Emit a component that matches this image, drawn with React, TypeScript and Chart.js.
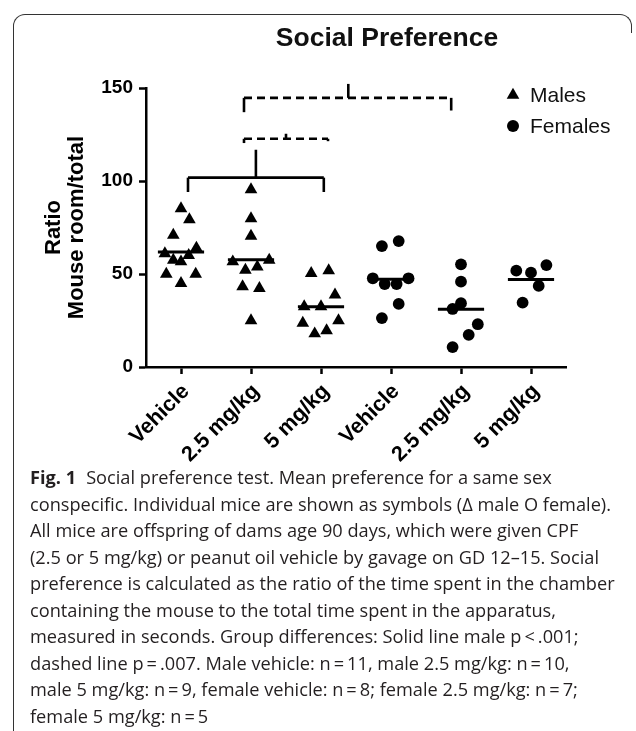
import React, { useEffect, useRef } from 'react';
import { Chart, registerables } from 'chart.js';

Chart.register(...registerables);

// ---------- data ----------
const categories = ['Vehicle', '2.5 mg/kg', '5 mg/kg', 'Vehicle', '2.5 mg/kg', '5 mg/kg'];
const yTickValues = [0, 50, 100, 150];
const chartTitle = 'Social Preference';
const yTitle = ['Ratio', 'Mouse room/total'];
const legendLabels = ['Males', 'Females'];

// values per group, and horizontal scatter offsets (in category units)
const maleVehicle = [85.2, 79.3, 70.9, 61, 64, 60, 57.5, 56.6, 50, 50, 45];
const maleVehicleJitter = [0, 0.12, -0.11, -0.23, 0.22, 0.11, -0.11, 0, -0.21, 0.21, 0];
const male25 = [95.4, 79.8, 70.4, 56.6, 57.5, 52.1, 53.9, 43.2, 42.3, 25];
const male25Jitter = [0, 0, 0, -0.26, 0.26, -0.08, 0.09, -0.12, 0.12, 0];
const male5 = [50.4, 51.8, 32.5, 32.5, 38.8, 25, 23.6, 17.9, 19.6];
const male5Jitter = [-0.14, 0.11, -0.24, 0, 0.2, 0.25, -0.26, -0.09, 0.08];
const femaleVehicle = [65, 67.7, 47.7, 44.6, 44.6, 47.7, 33.9, 26.3];
const femaleVehicleJitter = [-0.13, 0.11, -0.26, -0.09, 0.08, 0.25, 0.11, -0.13];
const female25 = [55.2, 45.9, 34.3, 31.2, 23, 17.3, 10.7];
const female25Jitter = [0, 0, 0, -0.12, 0.24, 0.11, -0.12];
const female5 = [51.8, 50.7, 54.8, 43.6, 34.6];
const female5Jitter = [-0.21, 0, 0.22, 0.11, -0.12];

// significance brackets (x in category units, y in ratio units)
const solidBracket = { from: 0.1, to: 2.04, peak: 1.07, bar: 101.8, legLeft: 94.1, legRight: 94.1, tickEnd: 116.8 };
const dashedBracketUpper = { from: 0.9, to: 3.86, peak: 2.39, bar: 144.7, legLeft: 137.0, legRight: 137.9, tickEnd: 152.2 };
const dashedBracketLower = { from: 0.9, to: 2.1, peak: 1.5, bar: 122.7, legLeft: 120.4, legRight: 121.4, tickEnd: 125.4 };

const captionLines = [
  'Social preference test. Mean preference for a same sex',
  'conspecific. Individual mice are shown as symbols (\u0394 male O female).',
  'All mice are offspring of dams age 90 days, which were given CPF',
  '(2.5 or 5 mg/kg) or peanut oil vehicle by gavage on GD 12\u201315. Social',
  'preference is calculated as the ratio of the time spent in the chamber',
  'containing the mouse to the total time spent in the apparatus,',
  'measured in seconds. Group differences: Solid line male p\u2009<\u2009.001;',
  'dashed line p\u2009=\u2009.007. Male vehicle: n\u2009=\u200911, male 2.5 mg/kg: n\u2009=\u200910,',
  'male 5 mg/kg: n\u2009=\u20099, female vehicle: n\u2009=\u20098; female 2.5 mg/kg: n\u2009=\u20097;',
  'female 5 mg/kg: n\u2009=\u20095',
];

// ---------- helpers ----------
const maleGroups = [
  [maleVehicle, maleVehicleJitter],
  [male25, male25Jitter],
  [male5, male5Jitter],
];
const femaleGroups = [
  [femaleVehicle, femaleVehicleJitter],
  [female25, female25Jitter],
  [female5, female5Jitter],
];

const pts = (groups: number[][][], start: number) =>
  groups.flatMap(([vals, jit], g) => vals.map((v, i) => ({ x: start + g + jit[i], y: v })));

const mean = (a: number[]) => a.reduce((s, v) => s + v, 0) / a.length;

const FONT = '"Liberation Sans", Arial, Helvetica, sans-serif';

function bracketSets(b: any, dashed: boolean) {
  const seg = (pairs: number[][], dash: number[]) => ({
    type: 'scatter' as const,
    showLine: true,
    pointRadius: 0,
    borderColor: '#000',
    borderWidth: 2.6,
    borderDash: dash,
    clip: false as any,
    data: pairs.map(([x, y]) => ({ x, y })),
  });
  return [
    seg([[b.from, b.bar], [b.to, b.bar]], dashed ? [8, 5] : []),
    seg([[b.from, b.legLeft], [b.from, b.bar]], []),
    seg([[b.to, b.legRight], [b.to, b.bar]], []),
    seg([[b.peak, b.bar], [b.peak, b.tickEnd]], []),
  ];
}

const overlayPlugin = {
  id: 'overlay',
  afterDraw(chart: any) {
    const ctx = chart.ctx as CanvasRenderingContext2D;
    ctx.save();
    ctx.fillStyle = '#111';
    ctx.textBaseline = 'middle';
    ctx.textAlign = 'center';
    ctx.font = `bold 26.5px ${FONT}`;
    ctx.fillText(chartTitle, 387, 39);

    // legend
    const lx = 513;
    const ly = [95, 126];
    const r = 7.3;
    ctx.fillStyle = '#000';
    ctx.beginPath();
    ctx.moveTo(lx, ly[0] - r);
    ctx.lineTo(lx + 0.866 * r, ly[0] + r / 2);
    ctx.lineTo(lx - 0.866 * r, ly[0] + r / 2);
    ctx.closePath();
    ctx.fill();
    ctx.beginPath();
    ctx.arc(lx, ly[1], 6, 0, Math.PI * 2);
    ctx.fill();
    ctx.font = `21px ${FONT}`;
    ctx.textAlign = 'left';
    ctx.fillStyle = '#111';
    ctx.fillText(legendLabels[0], 530, ly[0] + 1);
    ctx.fillText(legendLabels[1], 530, ly[1] + 1);
    ctx.restore();
  },
};

export default function App() {
  const ref = useRef<HTMLCanvasElement | null>(null);

  useEffect(() => {
    document.body.style.margin = '0';
    if (!ref.current) return;

    const meanSets = [...maleGroups, ...femaleGroups].map(([vals], g) => ({
      type: 'scatter' as const,
      showLine: true,
      pointRadius: 0,
      borderColor: '#000',
      borderWidth: 3,
      data: [
        { x: g - 0.33, y: mean(vals) },
        { x: g + 0.33, y: mean(vals) },
      ],
    }));

    const chart = new Chart(ref.current, {
      type: 'scatter',
      data: {
        datasets: [
          {
            label: legendLabels[0],
            data: pts(maleGroups, 0),
            pointStyle: 'triangle',
            pointRadius: 7.3,
            pointHoverRadius: 7.3,
            backgroundColor: '#000',
            borderWidth: 0,
          },
          {
            label: legendLabels[1],
            data: pts(femaleGroups, 3),
            pointStyle: 'circle',
            pointRadius: 5.9,
            pointHoverRadius: 5.9,
            backgroundColor: '#000',
            borderWidth: 0,
          },
          ...meanSets,
          ...bracketSets(solidBracket, false),
          ...bracketSets(dashedBracketUpper, true),
          ...bracketSets(dashedBracketLower, true),
        ] as any,
      },
      options: {
        animation: false,
        responsive: false,
        devicePixelRatio: window.devicePixelRatio || 1,
        layout: { padding: { left: 0, top: 88, right: 70, bottom: 0 } },
        plugins: {
          legend: { display: false },
          tooltip: { enabled: false },
          title: { display: false },
        },
        scales: {
          x: {
            type: 'linear',
            min: -0.5,
            max: 5.5,
            afterBuildTicks: (s: any) => {
              s.ticks = categories.map((_, i) => ({ value: i }));
            },
            afterFit: (s: any) => {
              s.height = 103;
            },
            grid: {
              drawOnChartArea: false,
              drawTicks: true,
              tickLength: 7,
              tickWidth: 2.5,
              tickColor: '#000',
            },
            border: { display: true, color: '#000', width: 2.5 },
            ticks: {
              autoSkip: false,
              maxRotation: 45,
              minRotation: 45,
              padding: 5,
              labelOffset: 5,
              color: '#000',
              font: { family: FONT, size: 21.5, weight: 'bold' },
              callback: (v: any) => categories[Math.round(Number(v))] ?? '',
            },
          },
          y: {
            type: 'linear',
            min: 0,
            max: 150,
            afterBuildTicks: (s: any) => {
              s.ticks = yTickValues.map((v) => ({ value: v }));
            },
            afterFit: (s: any) => {
              s.width = 146;
            },
            grid: {
              drawOnChartArea: false,
              drawTicks: true,
              tickLength: 7,
              tickWidth: 2.5,
              tickColor: '#000',
            },
            border: { display: true, color: '#000', width: 2.5 },
            ticks: {
              padding: 6,
              color: '#000',
              font: { family: FONT, size: 19, weight: 'bold' },
            },
            title: {
              display: true,
              text: yTitle,
              color: '#000',
              padding: { top: 42, bottom: 0 },
              font: { family: FONT, size: 22, weight: 'bold', lineHeight: 1.05 },
            },
          },
        },
      },
      plugins: [overlayPlugin],
    });
    return () => chart.destroy();
  }, []);

  return (
    <div style={{ position: 'relative', width: 636, height: 731, background: '#fff', overflow: 'hidden' }}>
      <div
        style={{
          position: 'absolute',
          left: 13,
          top: 14,
          width: 617,
          height: 18,
          borderTop: '1.5px solid #333',
          borderLeft: '1.5px solid #333',
          borderRight: '1.5px solid #333',
          borderRadius: '12px 12px 0 0',
        }}
      />
      <div
        style={{
          position: 'absolute',
          left: 13,
          top: 30,
          width: 0,
          height: 701,
          borderLeft: '1.5px solid #333',
        }}
      />
      <canvas ref={ref} width={636} height={470} style={{ position: 'absolute', left: 0, top: 0, width: 636, height: 470 }} />
      <div
        style={{
          position: 'absolute',
          left: 30,
          top: 464,
          width: 606,
          fontFamily: '"Open Sans", "Noto Sans", sans-serif',
          fontSize: 18.2,
          lineHeight: '26.5px',
          color: '#231f20',
          whiteSpace: 'nowrap',
        }}
      >
        {captionLines.map((line, i) => (
          <div key={i}>
            {i === 0 && <b style={{ marginRight: 10 }}>Fig. 1</b>}
            {line}
          </div>
        ))}
      </div>
    </div>
  );
}
